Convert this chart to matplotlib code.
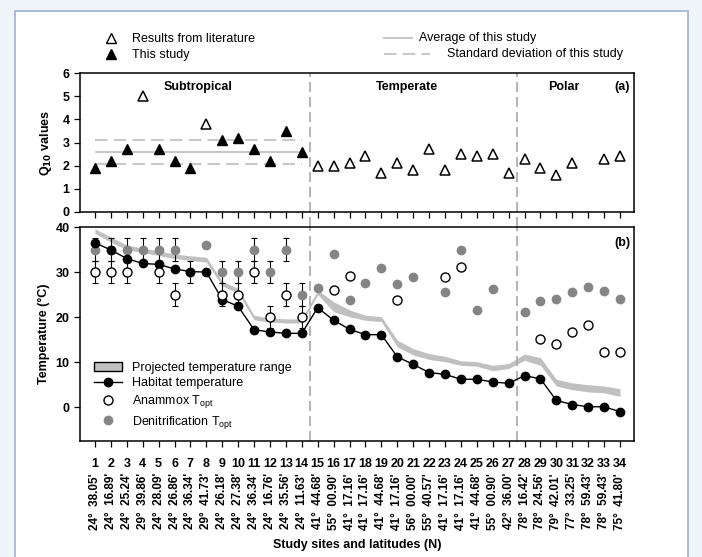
import numpy as np
import matplotlib
matplotlib.use("Agg")
import matplotlib.pyplot as plt
from matplotlib.lines import Line2D
from matplotlib.patches import Rectangle, Patch

plt.rcParams['font.family'] = ['Liberation Sans', 'DejaVu Sans']

nan = np.nan
sites = np.arange(1, 35)
latitudes = ["24° 38.05'", "24° 16.89'", "24° 25.24'", "29° 39.86'", "24° 28.09'",
             "24° 26.86'", "24° 36.34'", "29° 41.73'", "24° 26.18'", "24° 27.38'",
             "24° 36.34'", "24° 16.76'", "24° 35.56'", "24° 11.63'", "41° 44.68'",
             "55° 00.90'", "41° 17.16'", "41° 17.16'", "41° 44.68'", "41° 17.16'",
             "56° 00.00'", "55° 40.57'", "41° 17.16'", "41° 17.16'", "41° 44.68'",
             "55° 00.90'", "42° 36.00'", "78° 16.42'", "78° 24.56'", "79° 42.01'",
             "77° 33.25'", "78° 59.43'", "78° 59.43'", "75° 41.80'"]

# Q10 values (panel a)
q10_this = [1.9, 2.2, 2.7, nan, 2.7, 2.2, 1.9, nan, 3.1, 3.2, 2.7, 2.2, 3.5, 2.6] + [nan] * 20
q10_lit = [nan, nan, nan, 5.0, nan, nan, nan, 3.8, nan, nan, nan, nan, nan, nan,
           2.0, 2.0, 2.1, 2.4, 1.7, 2.1, 1.8, 2.7, 1.8, 2.5, 2.4, 2.5, 1.7,
           2.3, 1.9, 1.6, 2.1, nan, 2.3, 2.4]
q10_mean = 2.59
q10_sd = 0.5

# temperatures (panel b)
habitat = [36.5, 34.9, 33.0, 31.9, 31.7, 30.7, 30.1, 30.0, 23.9, 22.4, 17.2, 16.7, 16.4, 16.4,
           22.1, 19.3, 17.3, 16.1, 16.1, 11.2, 9.5, 7.7, 7.3, 6.2, 6.2, 5.6, 5.3,
           7.0, 6.3, 1.5, 0.6, 0.1, 0.1, -1.0]
proj_high = [39.6, 37.8, 36.0, 35.3, 34.7, 34.0, 33.6, 33.3, 27.9, 26.4, 20.4, 19.8, 19.6, 19.6,
             26.0, 23.4, 21.6, 20.4, 20.1, 14.9, 13.0, 11.9, 11.3, 10.3, 10.1, 9.3, 9.7,
             11.8, 11.0, 6.2, 5.4, 5.0, 4.7, 4.1]
proj_low = [38.6, 36.6, 35.0, 34.3, 33.7, 33.0, 32.6, 32.2, 26.9, 25.3, 19.4, 18.9, 18.7, 18.7,
            25.0, 21.2, 20.1, 19.3, 19.0, 13.4, 11.6, 10.6, 10.1, 9.3, 9.1, 8.1, 8.6,
            10.4, 9.3, 4.7, 3.9, 3.4, 3.2, 2.4]
anammox = [30, 30, 30, nan, 30, 25, nan, nan, 25, 25, 30, 20, 25, 20,
           nan, 26.0, 29.1, nan, nan, 23.8, nan, nan, 29.0, 31.2, nan, nan, nan,
           nan, 15.1, 14.1, 16.7, 18.2, 12.2, 12.2]
anammox_err = [2.5] * 14 + [0] * 20
denit = [35, 35, 35, 35, 35, 35, 30, 36, 30, 30, 35, 30, 35, 25,
         26.5, 34.0, 23.8, 27.6, 31.0, 27.3, 29.0, nan, 25.5, 35.0, 21.5, 26.2, nan,
         21.1, 23.6, 24.1, 25.6, 26.7, 25.8, 24.1]
denit_err = [2.5] * 7 + [0] + [2.5] * 6 + [0] * 20

region_names = ["Subtropical", "Temperate", "Polar"]
region_centers = [7.5, 20.6, 30.5]
region_bounds = [14.5, 27.5]

W, H = 702, 557
fig = plt.figure(figsize=(W / 100, H / 100), dpi=100, facecolor='#eef5fb')
fig.add_artist(Rectangle((15 / W, -0.01), (688 - 15) / W, 1 - 11 / H + 0.01,
                         transform=fig.transFigure, facecolor='white',
                         edgecolor='#a9b3d9', lw=1.3, zorder=0))

ax1 = fig.add_axes([80 / W, 1 - 212 / H, 554 / W, 139 / H])
ax2 = fig.add_axes([80 / W, 1 - 441 / H, 554 / W, 214 / H])

for ax in (ax1, ax2):
    ax.set_xlim(0.06, 34.88)
    for s in ax.spines.values():
        s.set_linewidth(1.1)
    ax.tick_params(direction='out', length=4, width=0.9, labelsize=9)
    ax.set_xticks(sites)

# ---- panel (a)
ax1.set_ylim(0, 6)
ax1.set_yticks(range(0, 7))
ax1.set_yticklabels([str(v) for v in range(0, 7)], fontweight='bold')
ax1.set_xticklabels([])
ax1.hlines(q10_mean, sites[0], 14, color='#c8c8c8', lw=1.5)
ax1.hlines([q10_mean - q10_sd, q10_mean + q10_sd], sites[0], 14, color='#c8c8c8',
           lw=1.5, linestyles=(0, (6, 3)))
ax1.plot(sites, q10_lit, '^', mfc='white', mec='black', ms=6.5, mew=1.1, ls='none')
ax1.plot(sites, q10_this, '^', color='black', ms=6.5, ls='none')
for name, cx in zip(region_names, region_centers):
    ax1.text(cx, 5.4, name, ha='center', va='center', fontsize=9, fontweight='bold')
ax1.text(0.993, 0.9, '(a)', transform=ax1.transAxes, ha='right', va='center',
         fontsize=9, fontweight='bold')
ax1.set_ylabel('Q$_{\\mathbf{10}}$ values', fontsize=9, fontweight='bold', labelpad=6)

for xb in region_bounds:
    ax1.axvline(xb, ymin=-15 / 139, ymax=1, color='#a8a8a8', lw=1.2,
                ls=(0, (6, 3)), clip_on=False)
    ax2.axvline(xb, color='#a8a8a8', lw=1.2, ls=(0, (6, 3)))

# ---- panel (b)
ax2.set_ylim(-7.5, 40)
ax2.set_yticks([0, 10, 20, 30, 40])
ax2.set_yticklabels(['0', '10', '20', '30', '40'], fontweight='bold')
ax2.set_xticklabels([str(s) for s in sites], fontweight='bold', fontsize=9)
ax2.tick_params(axis='x', pad=8)
ax2.fill_between(sites, proj_low, proj_high, color='#c0c0c0', lw=0, zorder=1)
ax2.errorbar(sites, denit, yerr=denit_err, fmt='none', ecolor='black', elinewidth=0.8,
             capsize=2.5, capthick=0.8, zorder=2)
ax2.errorbar(sites, anammox, yerr=anammox_err, fmt='none', ecolor='black', elinewidth=0.8,
             capsize=2.5, capthick=0.8, zorder=2)
ax2.plot(sites, denit, 'o', color='#858585', ms=6, ls='none', zorder=3)
ax2.plot(sites, habitat, '-o', color='black', ms=6, lw=1.0, zorder=4)
ax2.plot(sites, anammox, 'o', mfc='white', mec='black', ms=6.5, mew=1.0, ls='none', zorder=5)
ax2.text(0.993, 0.925, '(b)', transform=ax2.transAxes, ha='right', va='center',
         fontsize=9, fontweight='bold')
ax2.set_ylabel('Temperature (°C)', fontsize=9, fontweight='bold', labelpad=4)

# latitude labels (rotated, degrees at the bottom)
xt = ax2.get_xaxis_transform()
for s, lat in zip(sites, latitudes):
    ax2.text(s, -32 / 214, lat.replace(' ', '  '), transform=xt, rotation=90,
             ha='center', va='top', fontsize=8.5, fontweight='bold')
ax2.text(0.5, -0.487, 'Study sites and latitudes (N)', transform=ax2.transAxes,
         ha='center', va='center', fontsize=9, fontweight='bold')

handles = [Patch(facecolor='#c0c0c0', edgecolor='black', lw=1.0),
           Line2D([], [], color='black', marker='o', ms=6, lw=1.0),
           Line2D([], [], color='none', marker='o', mfc='white', mec='black', ms=6.5),
           Line2D([], [], color='none', marker='o', mfc='#858585', mec='#858585', ms=6)]
labels = ['Projected temperature range', 'Habitat temperature',
          'Anammox T$_{\\mathregular{opt}}$', 'Denitrification T$_{\\mathregular{opt}}$']
ax2.legend(handles, labels, loc='lower left', bbox_to_anchor=(0.005, -0.005), frameon=False,
           fontsize=9, handlelength=2.2, handletextpad=0.8, labelspacing=0.3)

# ---- top legends
fig.legend([Line2D([], [], color='none', marker='^', mfc='white', mec='black', ms=6.5),
            Line2D([], [], color='none', marker='^', mfc='black', mec='black', ms=6.5)],
           ['Results from literature', 'This study'], loc='center left',
           bbox_to_anchor=(93 / W, 1 - 47 / H), frameon=False, fontsize=9,
           handlelength=1.0, handletextpad=1.2, labelspacing=0.3)
fig.add_artist(Line2D([384 / W, 412 / W], [1 - 38 / H] * 2, transform=fig.transFigure,
                      color='#c8c8c8', lw=1.5))
fig.text(419 / W, 1 - 38 / H, 'Average of this study', fontsize=9, va='center')
fig.add_artist(Line2D([384 / W, 430 / W], [1 - 54 / H] * 2, transform=fig.transFigure,
                      color='#c8c8c8', lw=1.5, ls=(0, (6, 3))))
fig.text(447 / W, 1 - 54 / H, 'Standard deviation of this study', fontsize=9, va='center')

fig.savefig('out.png', dpi=100, facecolor=fig.get_facecolor())
